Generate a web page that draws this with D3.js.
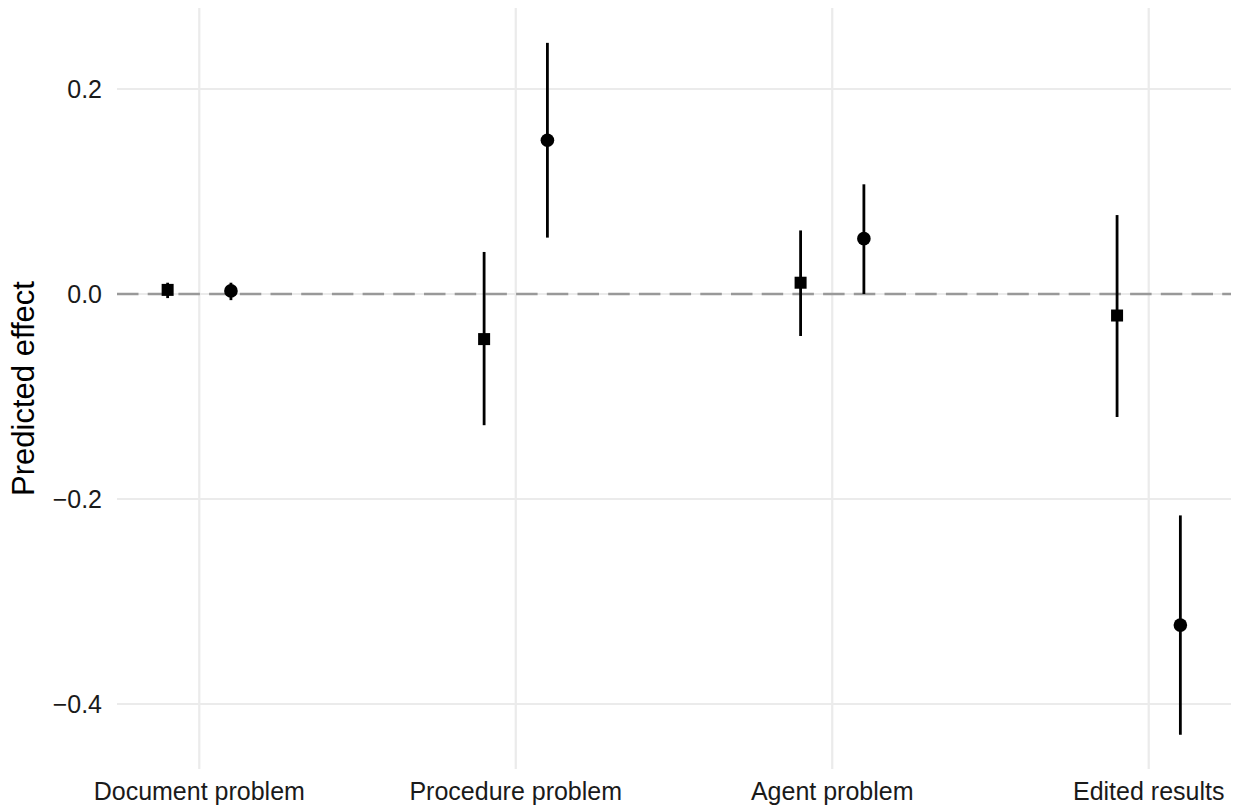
<!DOCTYPE html>
<html>
<head>
<meta charset="utf-8">
<script src="https://d3js.org/d3.v7.min.js"></script>
<style>
  body { margin: 0; background: #fff; }
  text { font-family: "Liberation Sans", Arial, sans-serif; }
</style>
</head>
<body>
<div id="chart"></div>
<script>
// categories and the two dodged series (square = model A, circle = model B)
var categories = ["Document problem", "Procedure problem", "Agent problem", "Edited results"];
var squareEst  = [0.004, -0.044, 0.011, -0.021];
var squareLow  = [-0.004, -0.128, -0.041, -0.120];
var squareHigh = [0.011, 0.041, 0.062, 0.077];
var circleEst  = [0.003, 0.150, 0.054, -0.323];
var circleLow  = [-0.006, 0.055, 0.000, -0.430];
var circleHigh = [0.011, 0.245, 0.107, -0.216];
var yTicks = [0.2, 0.0, -0.2, -0.4];
var yTickLabels = ["0.2", "0.0", "\u22120.2", "\u22120.4"];

var width = 1235, height = 809;
var panelLeft = 117, panelRight = 1231, panelTop = 8, panelBottom = 769;

var svg = d3.select("#chart").append("svg")
    .attr("width", width)
    .attr("height", height);

// x is continuous: category i sits at i+1, series dodged by 0.1
var x = d3.scaleLinear().domain([0.74, 4.26]).range([panelLeft, panelRight]);
var y = d3.scaleLinear().domain([-0.4634, 0.279]).range([panelBottom, panelTop]);

var grid = svg.append("g");
grid.selectAll("line.h")
    .data(yTicks)
    .enter().append("line")
    .attr("x1", panelLeft).attr("x2", panelRight)
    .attr("y1", function(d){ return y(d); })
    .attr("y2", function(d){ return y(d); })
    .attr("stroke", "#ebebeb")
    .attr("stroke-width", 2.2);
grid.selectAll("line.v")
    .data(categories)
    .enter().append("line")
    .attr("x1", function(d, i){ return x(i + 1); })
    .attr("x2", function(d, i){ return x(i + 1); })
    .attr("y1", panelTop).attr("y2", panelBottom)
    .attr("stroke", "#ebebeb")
    .attr("stroke-width", 2.2);

// reference line at zero
svg.append("line")
    .attr("x1", panelLeft).attr("x2", panelRight)
    .attr("y1", y(0)).attr("y2", y(0))
    .attr("stroke", "#999999")
    .attr("stroke-width", 2.4)
    .attr("stroke-dasharray", "21.5 9.2");

// tick labels
svg.append("g").selectAll("text")
    .data(yTicks)
    .enter().append("text")
    .attr("x", 102)
    .attr("y", function(d){ return y(d); })
    .attr("dy", "0.35em")
    .attr("text-anchor", "end")
    .attr("font-size", 25)
    .attr("fill", "#1a1a1a")
    .text(function(d, i){ return yTickLabels[i]; });

svg.append("g").selectAll("text")
    .data(categories)
    .enter().append("text")
    .attr("x", function(d, i){ return x(i + 1); })
    .attr("y", 800)
    .attr("text-anchor", "middle")
    .attr("font-size", 25)
    .attr("fill", "#1a1a1a")
    .text(function(d){ return d; });

// y axis title
svg.append("text")
    .attr("transform", "translate(34," + ((panelTop + panelBottom) / 2) + ") rotate(-90)")
    .attr("text-anchor", "middle")
    .attr("font-size", 31)
    .attr("fill", "#000")
    .text("Predicted effect");

// error bars + points
var sq = categories.map(function(c, i){
    return {x: i + 1 - 0.1, est: squareEst[i], lo: squareLow[i], hi: squareHigh[i]};
});
var ci = categories.map(function(c, i){
    return {x: i + 1 + 0.1, est: circleEst[i], lo: circleLow[i], hi: circleHigh[i]};
});

var marks = svg.append("g");
marks.selectAll("line.err")
    .data(sq.concat(ci))
    .enter().append("line")
    .attr("x1", function(d){ return x(d.x); })
    .attr("x2", function(d){ return x(d.x); })
    .attr("y1", function(d){ return y(d.lo); })
    .attr("y2", function(d){ return y(d.hi); })
    .attr("stroke", "#000")
    .attr("stroke-width", 2.8);

var s = 12;
marks.selectAll("rect")
    .data(sq)
    .enter().append("rect")
    .attr("x", function(d){ return x(d.x) - s / 2; })
    .attr("y", function(d){ return y(d.est) - s / 2; })
    .attr("width", s).attr("height", s)
    .attr("fill", "#000");

marks.selectAll("circle")
    .data(ci)
    .enter().append("circle")
    .attr("cx", function(d){ return x(d.x); })
    .attr("cy", function(d){ return y(d.est); })
    .attr("r", 6.8)
    .attr("fill", "#000");
</script>
</body>
</html>
